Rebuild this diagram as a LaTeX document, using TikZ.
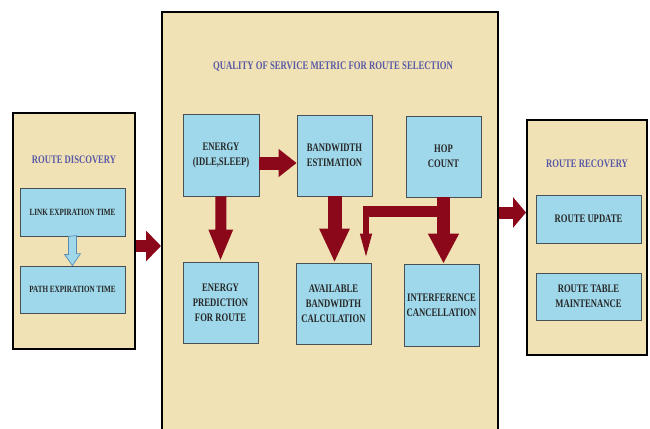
\documentclass[tikz,border=0pt]{standalone}
\usepackage{fontspec}
\setmainfont{Liberation Serif}
\newfontfamily\condfont[FakeStretch=0.75]{Liberation Serif}
\usetikzlibrary{arrows.meta,calc}
\definecolor{panelfill}{RGB}{240,226,180}
\definecolor{boxblue}{RGB}{158,216,234}
\definecolor{titleblue}{RGB}{88,88,166}
\definecolor{darkred}{RGB}{139,8,26}
\definecolor{boxline}{RGB}{70,80,85}
\definecolor{hollowline}{RGB}{90,140,180}
\tikzset{
  panel/.style={draw=black, line width=2pt, fill=panelfill, inner sep=0pt},
  blubox/.style={draw=boxline, line width=0.8pt, fill=boxblue, inner sep=0pt, align=center,
    font=\condfont\bfseries\fontsize{11.5}{15}\selectfont, text=black!85},
  smallbox/.style={blubox, font=\condfont\bfseries\fontsize{9.5}{11}\selectfont},
  ptitle/.style={text=titleblue, font=\condfont\bfseries\fontsize{11.5}{12}\selectfont},
  bigtitle/.style={text=titleblue, font=\condfont\bfseries\fontsize{11.6}{14}\selectfont},
  blockarrow/.style args={#1/#2/#3}{line width=#1, draw=darkred,
    -{Triangle[length=#2, width=#3, fill=darkred]}},
}
\begin{document}
\begin{tikzpicture}[x=1pt,y=-1pt]
\useasboundingbox (0,0) rectangle (650,428);
\clip (0,0) rectangle (650,428);
\fill[white] (0,0) rectangle (650,428);

% panels
\node[panel, minimum width=122pt, minimum height=236pt] (ld) at (74,231) {};
\node[panel, minimum width=336pt, minimum height=440pt] (qos) at (330,232) {};
\node[panel, minimum width=120pt, minimum height=235pt] (rr) at (587,237.5) {};

% titles
\node[ptitle] (tld) at (74,160) {ROUTE DISCOVERY};
\node[bigtitle] (tqos) at (333,67) {QUALITY OF SERVICE METRIC FOR ROUTE SELECTION};
\node[ptitle] (trr) at (587,164) {ROUTE RECOVERY};

% left boxes
\node[smallbox, minimum width=105pt, minimum height=48pt] (link) at (72.5,212) {LINK EXPIRATION TIME};
\node[smallbox, minimum width=105pt, minimum height=47pt] (path) at (72.5,289.5) {PATH EXPIRATION TIME};

% middle boxes
\node[blubox, minimum width=76pt, minimum height=82pt] (energy) at (221,155) {ENERGY\\(IDLE,SLEEP)};
\node[blubox, minimum width=75pt, minimum height=81pt] (bwest) at (334.5,155.5) {BANDWIDTH\\ESTIMATION};
\node[blubox, minimum width=75pt, minimum height=81pt] (hop) at (443.5,156.5) {HOP\\COUNT};
\node[blubox, minimum width=75pt, minimum height=81pt] (pred) at (220.5,302.5) {ENERGY\\PREDICTION\\FOR ROUTE};
\node[blubox, minimum width=75pt, minimum height=81pt] (avail) at (333.5,303.5) {AVAILABLE\\BANDWIDTH\\CALCULATION};
\node[blubox, minimum width=75pt, minimum height=82pt] (interf) at (441.5,305) {INTERFERENCE\\CANCELLATION};

% right boxes
\node[blubox, minimum width=105pt, minimum height=48pt] (upd) at (588.5,219) {ROUTE UPDATE};
\node[blubox, minimum width=105pt, minimum height=47pt] (tab) at (588.5,296.5) {ROUTE TABLE\\MAINTENANCE};

% hollow arrow link -> path
\draw[fill=boxblue, draw=hollowline, line width=0.7pt]
  ($(link.south)+(-4,0)$) -- ++(0,18) -- ++(-4,0) -- (path.north) -- ++(8,-12) -- ++(-4,0) -- ++(0,-18) -- cycle;

% block arrows between panels
\draw[blockarrow=12pt/15pt/30pt] ([yshift=-15pt]ld.east) -- ([yshift=-15pt]ld.east -| qos.west);
\draw[blockarrow=12pt/13pt/30pt] ([yshift=25pt]qos.east |- rr.west) -- ([yshift=25pt]rr.west);

% inner arrows
\draw[blockarrow=13pt/18pt/27pt] ([yshift=-8pt]energy.east) -- ([yshift=-8pt]energy.east -| bwest.west);
\draw[blockarrow=11pt/32pt/22pt] (energy.south) -- (pred.north);
\draw[blockarrow=14pt/34pt/28pt] (bwest.south) -- (avail.north -| bwest.south);
\draw[blockarrow=13pt/30pt/29pt] (hop.south) -- (interf.north -| hop.south);

% branch from hop count to available bandwidth
\coordinate (br) at (443,211.5);
\coordinate (bl) at (363,211.5);
\coordinate (bt) at (366,206);
\draw[darkred, line width=11pt] (br) -- (bl);
\draw[blockarrow=6pt/29pt/10pt] (bt) -- (bt |- avail.north);
\end{tikzpicture}
\end{document}
